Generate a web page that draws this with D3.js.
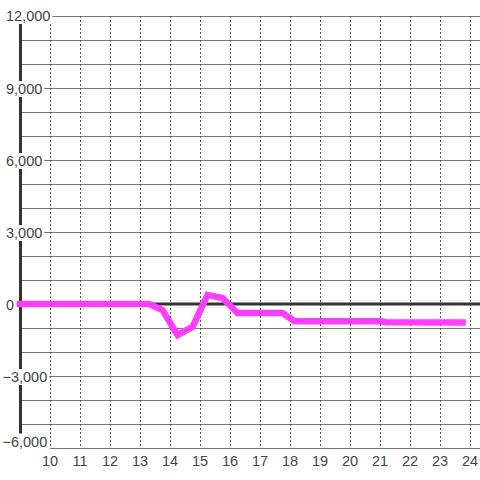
<!DOCTYPE html>
<html>
<head>
<meta charset="utf-8">
<script src="https://cdn.jsdelivr.net/npm/d3@7"></script>
<style>
  body { margin: 0; background: #fff; }
  svg { display: block; }
  text { font-family: "Liberation Sans", Arial, sans-serif; font-size: 14.5px; fill: #444; }
</style>
</head>
<body>
<svg id="chart" width="480" height="480"></svg>
<script>
'use strict';

// series values (hour of day vs. value)
var hours = [9, 13.3, 13.75, 14.25, 14.75, 15.25, 15.75, 16.25, 17.75, 18.15, 21, 21.2, 23.75];
var values = [0, 0, -250, -1300, -950, 380, 250, -380, -380, -720, -720, -760, -770];

var xTicks = [10, 11, 12, 13, 14, 15, 16, 17, 18, 19, 20, 21, 22, 23, 24];
var yGrid = [-6000, -5000, -4000, -3000, -2000, -1000, 0, 1000, 2000, 3000, 4000, 5000, 6000, 7000, 8000, 9000, 10000, 11000, 12000];
var yLabels = [-6000, -3000, 0, 3000, 6000, 9000, 12000];

var svg = d3.select('#chart');

var x = d3.scaleLinear().domain([9, 24 + 1 / 3]).range([20, 480]);
var y = d3.scaleLinear().domain([-6000, 12000]).range([448, 16]);

var fmt = d3.format(',');

// horizontal grid
svg.append('g').selectAll('line').data(yGrid).enter().append('line')
	.attr('x1', function (d) { return d === -6000 ? x(10) : x.range()[0]; })
	.attr('x2', 480)
	.attr('y1', function (d) { return y(d) + 0.5; })
	.attr('y2', function (d) { return y(d) + 0.5; })
	.attr('stroke', '#777')
	.attr('stroke-width', 1);

// vertical dotted grid
svg.append('g').selectAll('line').data(xTicks).enter().append('line')
	.attr('x1', function (d) { return x(d) + 0.5; })
	.attr('x2', function (d) { return x(d) + 0.5; })
	.attr('y1', y(12000))
	.attr('y2', y(-6000))
	.attr('stroke', '#555')
	.attr('stroke-width', 1)
	.attr('stroke-dasharray', '2,2');

// y axis and zero line
svg.append('line')
	.attr('x1', 20.5).attr('x2', 20.5)
	.attr('y1', y(12000)).attr('y2', y(-6000))
	.attr('stroke', '#333').attr('stroke-width', 3);

svg.append('line')
	.attr('x1', 20).attr('x2', 480)
	.attr('y1', y(0)).attr('y2', y(0))
	.attr('stroke', '#333').attr('stroke-width', 3);

// y labels with white boxes behind them
var labelG = svg.append('g').selectAll('g').data(yLabels).enter().append('g');

labelG.append('text')
	.attr('x', function (d) { return d < 0 ? 2.5 : 6; })
	.attr('y', function (d) {
		if (d === -6000) return y(d) - 1.5;
		if (d === 12000) return y(d) + 5;
		return y(d) + 6;
	})
	.text(function (d) { return fmt(d); })
	.each(function () {
		var b = this.getBBox();
		d3.select(this.parentNode).insert('rect', 'text')
			.attr('x', b.x - 2).attr('y', b.y)
			.attr('width', b.width + 4).attr('height', b.height)
			.attr('fill', '#fff');
	});

// x labels
svg.append('g').selectAll('text').data(xTicks).enter().append('text')
	.attr('x', function (d) { return x(d); })
	.attr('y', 466)
	.attr('text-anchor', 'middle')
	.text(function (d) { return d; });

// the series
var line = d3.line()
	.x(function (d, i) { return x(hours[i]); })
	.y(function (d) { return y(d); });

svg.append('path')
	.datum(values)
	.attr('d', line)
	.attr('fill', 'none')
	.attr('stroke', '#ff3dff')
	.attr('stroke-width', 6.5)
	.attr('stroke-linejoin', 'miter')
	.attr('stroke-linecap', 'square');
</script>
</body>
</html>
